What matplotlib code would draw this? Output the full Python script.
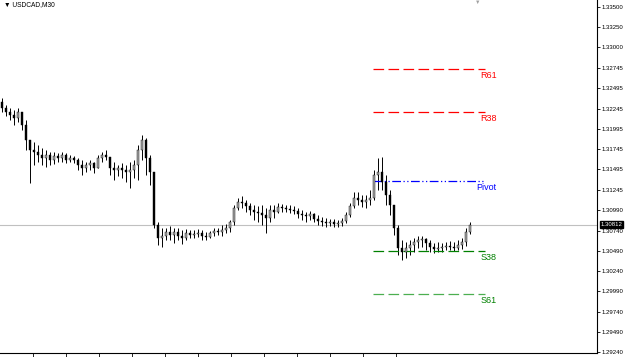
import numpy as np
import matplotlib.pyplot as plt
import matplotlib.transforms as mtransforms

# USDCAD M30 bars
first_open = 1.32326
highs = [1.32376, 1.32290, 1.32253, 1.32228, 1.32253, 1.32203, 1.32104, 1.31857, 1.31833, 1.31796,
         1.31759, 1.31734, 1.31709, 1.31709, 1.31697, 1.31709, 1.31697, 1.31672, 1.31660, 1.31636,
         1.31610, 1.31586, 1.31610, 1.31586, 1.31672, 1.31709, 1.31734, 1.31636, 1.31586, 1.31549,
         1.31573, 1.31549, 1.31586, 1.31610, 1.31796, 1.31919, 1.31882, 1.31672, 1.31463, 1.30845,
         1.30771, 1.30771, 1.30795, 1.30771, 1.30771, 1.30746, 1.30759, 1.30746, 1.30746, 1.30759,
         1.30746, 1.30721, 1.30734, 1.30771, 1.30771, 1.30808, 1.30820, 1.30870, 1.31055, 1.31141,
         1.31166, 1.31116, 1.31079, 1.31055, 1.31042, 1.31055, 1.31018, 1.31055, 1.31055, 1.31079,
         1.31067, 1.31055, 1.31055, 1.31042, 1.31018, 1.30993, 1.30968, 1.30981, 1.30956, 1.30931,
         1.30907, 1.30894, 1.30882, 1.30882, 1.30870, 1.30894, 1.30968, 1.31079, 1.31215, 1.31215,
         1.31178, 1.31178, 1.31240, 1.31487, 1.31636, 1.31648, 1.31425, 1.31240, 1.31055, 1.30808,
         1.30622, 1.30598, 1.30622, 1.30647, 1.30672, 1.30672, 1.30647, 1.30622, 1.30585, 1.30598,
         1.30585, 1.30598, 1.30610, 1.30598, 1.30622, 1.30647, 1.30771, 1.30845]
lows = [1.32203, 1.32154, 1.32104, 1.32043, 1.32079, 1.31981, 1.31734, 1.31326, 1.31549, 1.31586,
        1.31549, 1.31524, 1.31549, 1.31561, 1.31586, 1.31586, 1.31573, 1.31586, 1.31573, 1.31487,
        1.31425, 1.31463, 1.31487, 1.31450, 1.31512, 1.31586, 1.31610, 1.31425, 1.31363, 1.31413,
        1.31388, 1.31339, 1.31265, 1.31388, 1.31363, 1.31610, 1.31425, 1.31302, 1.30771, 1.30561,
        1.30536, 1.30622, 1.30622, 1.30585, 1.30622, 1.30573, 1.30622, 1.30647, 1.30647, 1.30660,
        1.30622, 1.30622, 1.30647, 1.30672, 1.30684, 1.30672, 1.30709, 1.30721, 1.30808, 1.30993,
        1.31018, 1.30968, 1.30931, 1.30870, 1.30845, 1.30808, 1.30709, 1.30845, 1.30894, 1.30956,
        1.30968, 1.30968, 1.30956, 1.30944, 1.30894, 1.30870, 1.30845, 1.30870, 1.30845, 1.30808,
        1.30795, 1.30783, 1.30795, 1.30783, 1.30783, 1.30795, 1.30833, 1.30907, 1.31018, 1.31055,
        1.31030, 1.31018, 1.31055, 1.31116, 1.31240, 1.31240, 1.31055, 1.30931, 1.30684, 1.30437,
        1.30375, 1.30400, 1.30437, 1.30474, 1.30524, 1.30536, 1.30499, 1.30474, 1.30462, 1.30474,
        1.30474, 1.30499, 1.30499, 1.30487, 1.30499, 1.30511, 1.30548, 1.30697]
closes = [1.32253, 1.32203, 1.32166, 1.32129, 1.32203, 1.32043, 1.31857, 1.31734, 1.31709, 1.31672,
          1.31636, 1.31672, 1.31610, 1.31660, 1.31636, 1.31672, 1.31610, 1.31636, 1.31610, 1.31549,
          1.31512, 1.31549, 1.31573, 1.31512, 1.31636, 1.31672, 1.31648, 1.31512, 1.31487, 1.31512,
          1.31487, 1.31463, 1.31487, 1.31549, 1.31734, 1.31857, 1.31636, 1.31463, 1.30808, 1.30647,
          1.30672, 1.30721, 1.30684, 1.30721, 1.30672, 1.30647, 1.30709, 1.30684, 1.30697, 1.30709,
          1.30672, 1.30660, 1.30709, 1.30734, 1.30721, 1.30746, 1.30771, 1.30845, 1.31018, 1.31093,
          1.31079, 1.31042, 1.30993, 1.30968, 1.30956, 1.30931, 1.30894, 1.30993, 1.30968, 1.31030,
          1.31018, 1.31005, 1.30993, 1.30981, 1.30944, 1.30931, 1.30919, 1.30944, 1.30882, 1.30857,
          1.30845, 1.30833, 1.30845, 1.30820, 1.30833, 1.30857, 1.30931, 1.31042, 1.31141, 1.31116,
          1.31093, 1.31116, 1.31141, 1.31425, 1.31463, 1.31339, 1.31178, 1.31055, 1.30771, 1.30524,
          1.30474, 1.30524, 1.30561, 1.30598, 1.30622, 1.30635, 1.30585, 1.30536, 1.30511, 1.30524,
          1.30536, 1.30548, 1.30536, 1.30524, 1.30561, 1.30598, 1.30721, 1.30812]

# fibonacci pivot levels
level_names = ['R61', 'R38', 'Pivot', 'S38', 'S61']
level_values = [1.32734, 1.32203, 1.31351, 1.30487, 1.29956]
level_colors = ['#ff0000', '#ff0000', '#0000ff', '#008000', '#4caf50']
level_text_colors = ['#ff0000', '#ff0000', '#0000ff', '#008000', '#008000']

price_ticks = [1.33500, 1.33250, 1.33000, 1.32745, 1.32495, 1.32245, 1.31995, 1.31745, 1.31495,
               1.31245, 1.30990, 1.30740, 1.30490, 1.30240, 1.29990, 1.29740, 1.29490, 1.29240]
current_price = 1.30812
symbol = 'USDCAD,M30'

opens = [first_open] + closes[:-1]
n = len(closes)
idx = np.arange(n)

plt.rcParams['font.family'] = ['Liberation Sans', 'DejaVu Sans']

fig = plt.figure(figsize=(6.25, 3.57), dpi=100)
ax = fig.add_axes([0, 4 / 357, 597 / 625, 353 / 357])

# current bid line
ax.axhline(current_price, color='#c0c0c0', lw=0.8, zorder=1)

# candles
ax.vlines(idx, lows, highs, color='black', lw=0.7, zorder=2)
for i in range(n):
    o, c = opens[i], closes[i]
    col = '#a8a8a8' if c >= o else 'black'
    h = max(abs(c - o), 0.00004)
    ax.bar(i, h, bottom=min(o, c), width=0.5, color=col, edgecolor='black',
           linewidth=0.3, zorder=3)

# pivot level lines
styles = [(0, (8.5, 3.5)), (0, (8.5, 3.5)), (0, (7, 2, 1, 2, 1, 2)), (0, (8.5, 3.5)), (0, (8.5, 3.5))]
for name, v, lc, tc, ls in zip(level_names, level_values, level_colors, level_text_colors, styles):
    ax.hlines(v, 92.75, 120.75, color=lc, lw=0.9, linestyles=[ls], zorder=2)
    ax.annotate(name, (123.6, v), xytext=(0, -1.2), textcoords='offset points',
                ha='right', va='top', fontsize=6.5, color=tc)

ax.set_xlim(-0.5, 148.75)
ax.set_ylim(1.29228, 1.33586)

# axis styling like the terminal
for s in ['top', 'left']:
    ax.spines[s].set_visible(False)
ax.spines['right'].set_linewidth(0.8)
ax.spines['bottom'].set_linewidth(0.8)
ax.yaxis.tick_right()
ax.set_yticks(price_ticks)
ax.set_yticklabels(['%.5f' % t for t in price_ticks])
ax.tick_params(axis='y', direction='out', length=2.5, width=0.6, labelsize=4.3, pad=1)
ax.set_xticks((np.arange(33, 400, 33) - 2) / 4)
ax.set_xticklabels([])
ax.tick_params(axis='x', direction='out', length=4, width=0.6)

# current price tag
trans = mtransforms.blended_transform_factory(ax.transAxes, ax.transData)
ax.text(1.006, current_price, '%.5f' % current_price, transform=trans, fontsize=4.3,
        color='white', va='center', ha='left',
        bbox=dict(boxstyle='square,pad=0.12', fc='black', ec='black'))

fig.text(4 / 625, 1 - 5 / 357, '\u25bc ' + symbol, fontsize=4.8, va='center', ha='left')
fig.text(478 / 625, 1 - 2 / 357, '\u25bc', fontsize=4, color='#a0a0a0', va='center', ha='center')

fig.savefig('out.png', dpi=100)
